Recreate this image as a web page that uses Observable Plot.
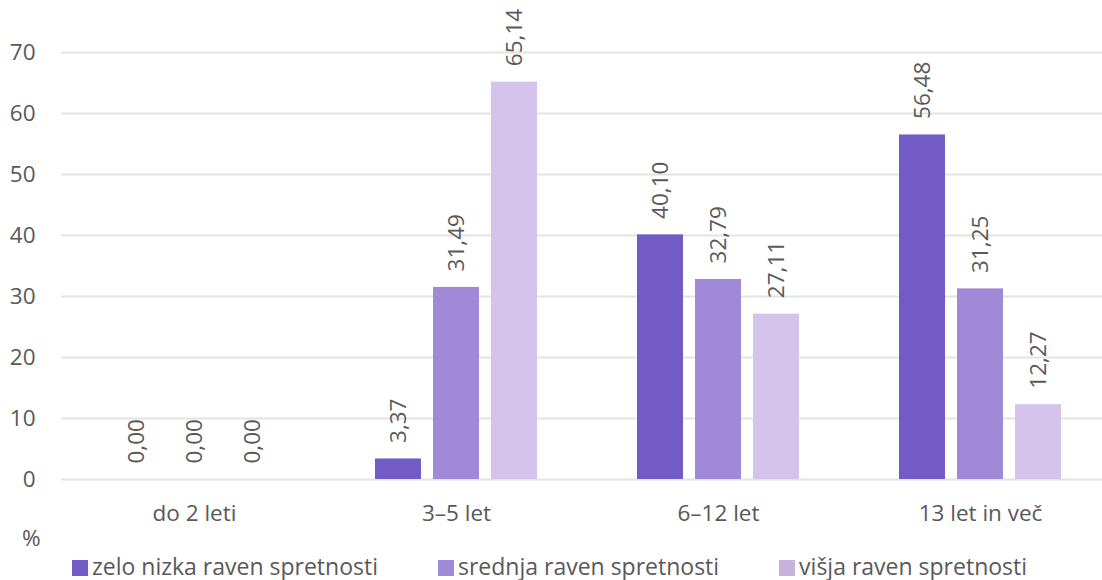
<!DOCTYPE html>
<html>
<head>
<meta charset="utf-8">
<script src="https://cdn.jsdelivr.net/npm/d3@7"></script>
<script src="https://cdn.jsdelivr.net/npm/@observablehq/plot@0.6"></script>
<style>
  html, body { margin: 0; padding: 0; background: #fff; }
  #wrap { position: relative; width: 1102px; height: 580px; font-family: "Open Sans", sans-serif; color: #595959; }
  #unit { position: absolute; left: 22px; top: 522px; font-size: 22.5px; }
  #legend { position: absolute; left: 72px; top: 553px; display: flex; font-size: 23px; line-height: 26px; white-space: nowrap; }
  #legend .item { display: flex; align-items: center; margin-right: 60px; }
  #legend .sw { width: 16px; height: 16px; margin-right: 4px; margin-top: 4px; }
</style>
</head>
<body>
<div id="wrap">
  <div id="chart"></div>
  <div id="unit">%</div>
  <div id="legend"></div>
</div>
<script>
const categories = ["do 2 leti", "3–5 let", "6–12 let", "13 let in več"];
const seriesNames = ["zelo nizka raven spretnosti", "srednja raven spretnosti", "višja raven spretnosti"];
const zeloNizka = [0.00, 3.37, 40.10, 56.48];
const srednja = [0.00, 31.49, 32.79, 31.25];
const visja = [0.00, 65.14, 27.11, 12.27];
const yTicks = [0, 10, 20, 30, 40, 50, 60, 70];
const barColors = ["#735BC6", "#A089D6", "#D4C4EC"];
const legendColors = ["#735BC6", "#A089D6", "#C8B1DA"];

const seriesValues = [zeloNizka, srednja, visja];
const offsets = [-58, 0, 58];
const fmt = v => v.toFixed(2).replace(".", ",");

const marks = [
  Plot.ruleY(yTicks, {stroke: "#e4e4e4", strokeWidth: 2})
];
seriesValues.forEach((vals, i) => {
  const rows = categories.map((c, j) => ({category: c, value: vals[j]}));
  marks.push(Plot.barY(rows, {
    x: "category", y: "value", fill: barColors[i],
    dx: offsets[i], insetLeft: 108, insetRight: 108
  }));
  marks.push(Plot.text(rows, {
    x: "category", y: "value", text: d => fmt(d.value),
    dx: offsets[i], dy: -16, rotate: -90, textAnchor: "start", lineAnchor: "middle",
    fontSize: 22.5, fill: "#595959"
  }));
});

const chart = Plot.plot({
  width: 1102,
  height: 552,
  marginLeft: 61,
  marginRight: 0,
  marginTop: 52,
  marginBottom: 73,
  style: {fontFamily: "Open Sans, sans-serif", fontSize: "22.5px", color: "#595959", background: "transparent"},
  x: {domain: categories, range: [63, 1111], padding: 0, label: null, tickSize: 0, tickPadding: 26},
  y: {domain: [0, 70], ticks: yTicks, label: null, tickSize: 0, tickPadding: 26},
  marks
});
document.getElementById("chart").appendChild(chart);

const legend = document.getElementById("legend");
seriesNames.forEach((name, i) => {
  const item = document.createElement("div");
  item.className = "item";
  const sw = document.createElement("div");
  sw.className = "sw";
  sw.style.background = legendColors[i];
  const t = document.createElement("span");
  t.textContent = name;
  item.appendChild(sw);
  item.appendChild(t);
  legend.appendChild(item);
});
</script>
</body>
</html>
